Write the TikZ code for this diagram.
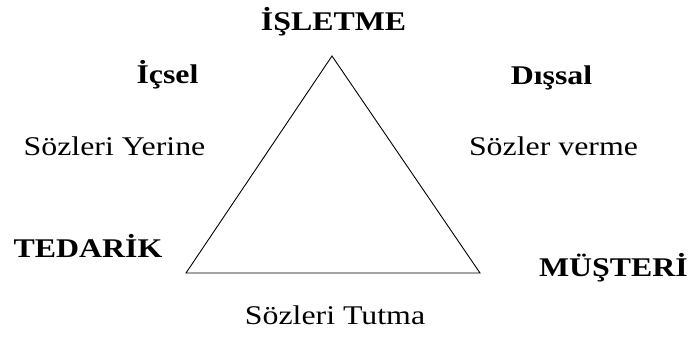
\documentclass[tikz,border=0pt]{standalone}
\usepackage{fontspec}
\usepackage{graphicx}
\setmainfont{Liberation Serif}
\usepackage{tikz}
\newcommand{\wtext}[1]{\scalebox{1.18}[1]{#1}}

\begin{document}
\begin{tikzpicture}[x=1pt,y=-1pt,
  every node/.style={inner sep=0pt,anchor=base,font=\fontsize{27}{32}\selectfont}]
\useasboundingbox (0,0) rectangle (691,340);

% Triangle corners
\coordinate (top) at (332,56);
\coordinate (tl) at (186,273);
\coordinate (tr) at (480,273);
\draw[line width=0.9pt,line join=miter] (top) -- (tl) -- (tr) -- cycle;

% Corner labels
\node (isletme) at (333.5,30) {\wtext{\textbf{İŞLETME}}};
\node (tedarik) at (88,257) {\wtext{\textbf{TEDARİK}}};
\node (musteri) at (613.5,276) {\wtext{\textbf{MÜŞTERİ}}};

% Side labels (left)
\node (icsel) at (167.5,83) {\wtext{\textbf{İçsel}}};
\node (yerine) at (114.5,155) {\wtext{Sözleri Yerine}};

% Side labels (right)
\node (dissal) at (551.5,84) {\wtext{\textbf{Dışsal}}};
\node (verme) at (553.5,155) {\wtext{Sözler verme}};

% Base label
\node (tutma) at (335,324) {\wtext{Sözleri Tutma}};

\end{tikzpicture}
\end{document}
